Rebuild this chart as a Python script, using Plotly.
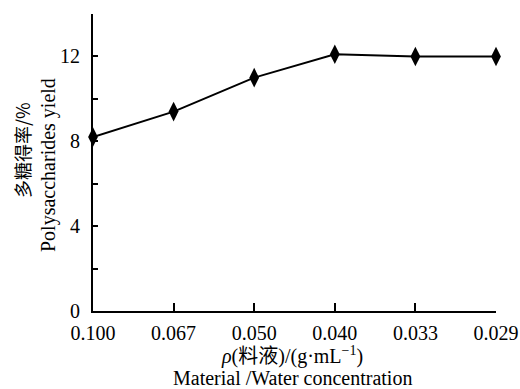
import plotly.graph_objects as go

# Material/water concentration (g/mL) and polysaccharide yield (%)
concentration = ["0.100", "0.067", "0.050", "0.040", "0.033", "0.029"]
yield_pct = [8.2, 9.4, 11.0, 12.1, 12.0, 12.0]
y_ticks = [0, 4, 8, 12]

SERIF = "Liberation Serif, Times New Roman, Noto Sans CJK SC, serif"

fig = go.Figure()
fig.add_trace(go.Scatter(
    x=concentration, y=yield_pct,
    mode="lines+markers",
    line=dict(color="black", width=2),
    marker=dict(symbol="diamond-tall", size=14, color="black"),
    cliponaxis=False,
    showlegend=False,
))

fig.update_layout(
    width=520, height=389,
    margin=dict(l=93, r=24, t=14, b=78),
    paper_bgcolor="white", plot_bgcolor="white",
    font=dict(family=SERIF, size=20, color="black"),
    xaxis=dict(
        type="category", range=[0, 5], automargin=False,
        showline=True, linecolor="black", linewidth=2,
        ticks="inside", ticklen=8, tickwidth=1.5, tickcolor="black",
        showgrid=False, zeroline=False,
        tickfont=dict(family=SERIF, size=20),
        ticklabelstandoff=3,
    ),
    yaxis=dict(
        range=[0, 14], tickvals=y_ticks, automargin=False,
        showline=True, linecolor="black", linewidth=2,
        ticks="inside", ticklen=5, tickwidth=1.5, tickcolor="black",
        minor=dict(dtick=2, ticks="inside", ticklen=5, tickwidth=1.5, tickcolor="black"),
        showgrid=False, zeroline=False,
        tickfont=dict(family=SERIF, size=20),
        ticklabelstandoff=7,
    ),
)

# Axis titles, positioned in page pixels
titles = [
    ("多糖得率/%", 22, 150, "Noto Sans CJK SC, " + SERIF, 18, -90),
    ("Polysaccharides yield", 48, 165, SERIF, 20, -90),
    ("<i>ρ</i>(料液)/(g·mL<sup>−1</sup>)", 292, 355, SERIF, 20, 0),
    ("Material /Water concentration", 292, 378, SERIF, 20, 0),
]

W, H = 520, 389
L, R, T, B = 93, 24, 14, 78
pw, ph = W - L - R, H - T - B
for text, px, py, fam, size, angle in titles:
    fig.add_annotation(
        text=text, showarrow=False, textangle=angle,
        xref="paper", yref="paper",
        x=(px - L) / pw, y=1 - (py - T) / ph,
        xanchor="center", yanchor="middle",
        font=dict(family=fam, size=size, color="black"),
    )

fig.write_html("out.html")
